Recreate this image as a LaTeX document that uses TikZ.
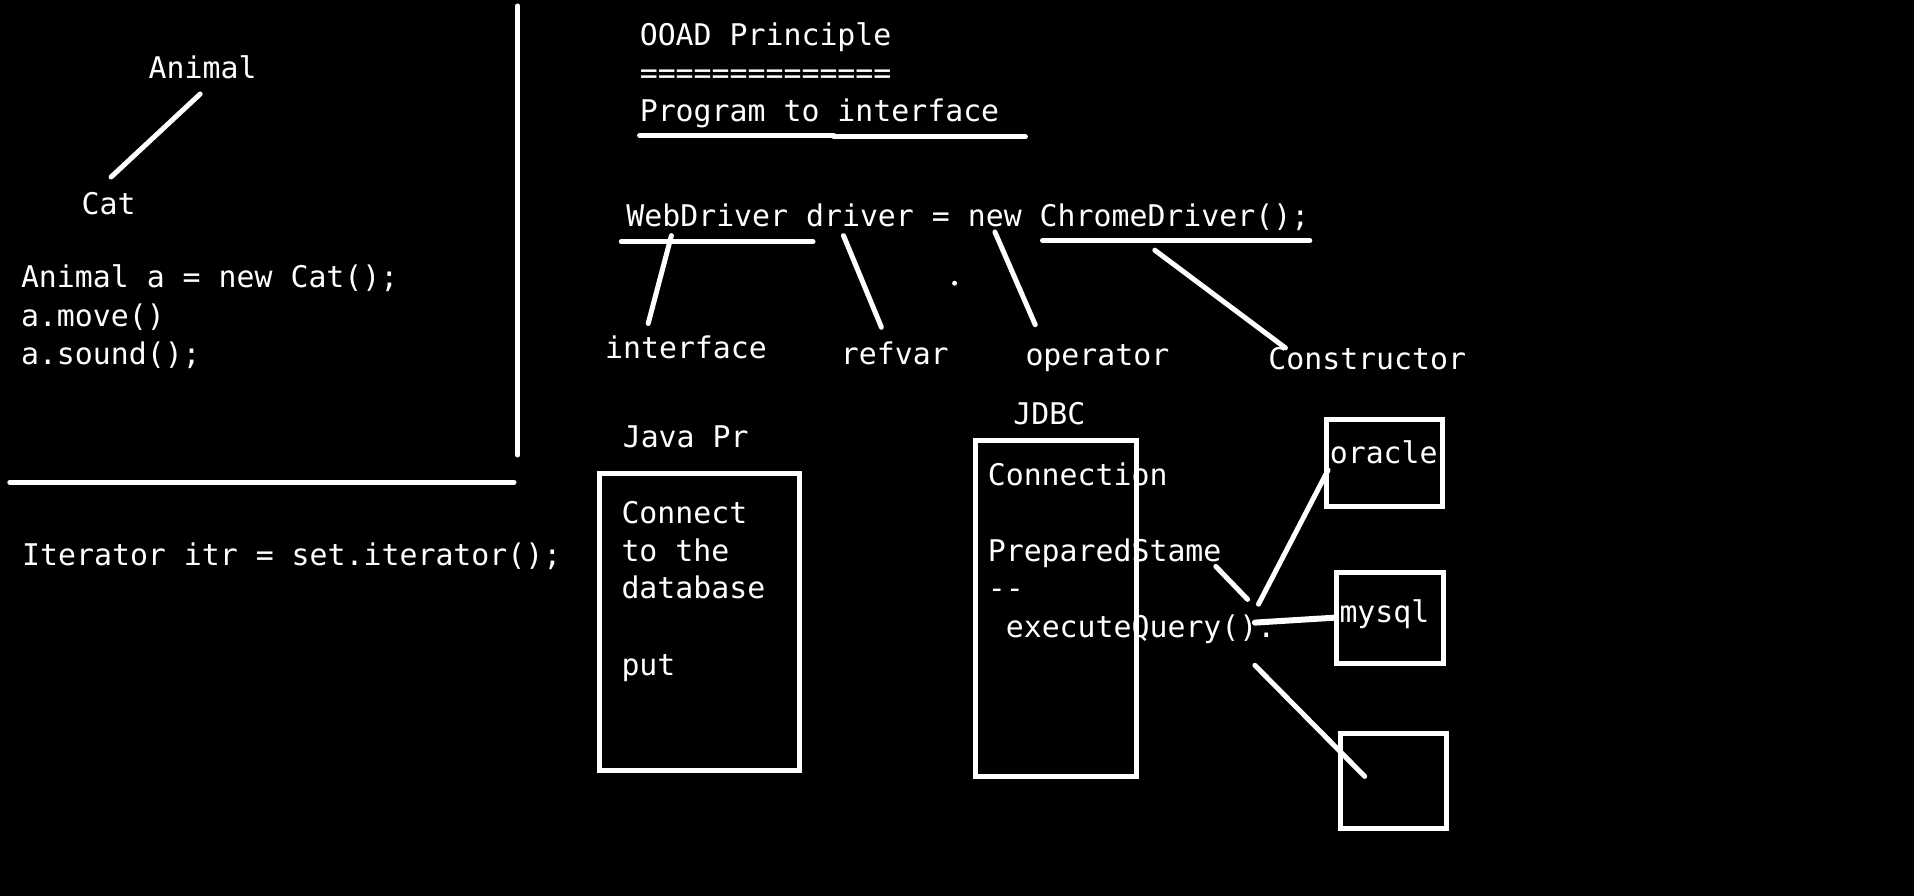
\documentclass[tikz,border=0pt]{standalone}
\usepackage{fontspec}
\setmonofont{DejaVu Sans Mono}
\begin{document}
\begin{tikzpicture}[x=1pt,y=-1pt,
  txt/.style={text=white,inner sep=0pt,anchor=west,text height=21pt,text depth=0pt,font=\ttfamily\fontsize{29.85}{36}\selectfont},
  ctxt/.style={txt,anchor=center},
  ln/.style={draw=white,line width=5pt,line cap=round},
  bx/.style={draw=white,line width=5pt}]
\fill[black] (0,0) rectangle (1914,896);
\useasboundingbox (0,0) rectangle (1914,896);
% left panel
\node[ctxt] (animal) at (202.6,68.4) {Animal};
\node[ctxt] (cat) at (108.6,203.9) {Cat};
\coordinate (ac1) at (200.2,94);
\coordinate (ac2) at (111.1,177);
\draw[ln] (ac1) -- (ac2);
\node[txt] (l1) at (20.8,277) {Animal a = new Cat();};
\node[txt] (l2) at (20.8,315.5) {a.move()};
\node[txt] (l3) at (20.8,354) {a.sound();};
\coordinate (v1) at (517.6,6);
\coordinate (v2) at (517.6,455);
\draw[ln] (v1) -- (v2);
\coordinate (h1) at (9.8,482.2);
\coordinate (h2) at (514,482.2);
\draw[ln] (h1) -- (h2);
\node[txt] (itr) at (22,555.4) {Iterator itr = set.iterator();};
% OOAD
\node[txt] (ooad) at (639.6,35.4) {OOAD Principle};
\node[txt] (eq) at (639.6,73.2) {==============};
\node[txt] (prog) at (639.6,111) {Program to interface};
\coordinate (u1) at (639.6,135.5);
\coordinate (u2) at (833.8,135.5);
\coordinate (u3) at (1025.4,136.7);
\draw[ln] (u1) -- (u2);
\draw[ln] (u2 |- u3) -- (u3);
% WebDriver line
\node[txt] (wd) at (626.2,216) {WebDriver driver = new ChromeDriver();};
\coordinate (w1) at (621.3,241.7);
\coordinate (w2) at (813,241.7);
\draw[ln] (w1) -- (w2);
\coordinate (c1) at (1042.5,240.5);
\coordinate (c2) at (1309.8,240.5);
\draw[ln] (c1) -- (c2);
\node[ctxt] (iface) at (686,347.9) {interface};
\node[ctxt] (refvar) at (894.8,354) {refvar};
\node[ctxt] (oper) at (1097.4,355.2) {operator};
\node[ctxt] (cons) at (1367.2,358.9) {Constructor};
\coordinate (a1) at (671.4,235.6); \coordinate (a2) at (648.2,323.5);
\coordinate (b1) at (843.5,235.6); \coordinate (b2) at (881.4,327.2);
\coordinate (d1) at (994.9,232);   \coordinate (d2) at (1035.2,324.7);
\coordinate (e1) at (1154.8,250.2); \coordinate (e2) at (1285.4,347.9);
\draw[ln] (a1) -- (a2);
\draw[ln] (b1) -- (b2);
\draw[ln] (d1) -- (d2);
\draw[ln] (e1) -- (e2);
\fill[white] (954.6,283.2) circle (2.5pt);
% Java Pr
\node[txt] (javapr) at (622.6,437) {Java Pr};
\node[bx,minimum width=200.3pt,minimum height=296.6pt,anchor=north west,inner sep=0pt] (jbox) at (596.6,471) {};
\node[txt] (j1) at (621.3,512.7) {Connect};
\node[txt] (j2) at (621.3,550.5) {to the};
\node[txt] (j3) at (621.3,588.4) {database};
\node[txt] (j4) at (621.3,665.3) {put};
% JDBC
\node[txt] (jdbc) at (1013.2,413.8) {JDBC};
\node[bx,minimum width=161.2pt,minimum height=335.6pt,anchor=north west,inner sep=0pt] (dbox) at (972.6,438) {};
\node[txt] (k1) at (987.6,474.9) {Connection};
\node[txt] (k2) at (987.6,550.5) {PreparedStame};
\node[txt] (k3) at (987.6,588.4) {--};
\node[txt] (k4) at (1005.6,627.4) {executeQuery().};
% DB boxes
\node[bx,minimum width=115.9pt,minimum height=86.7pt,anchor=north west,inner sep=0pt] (obox) at (1324.2,417.2) {};
\node[txt] (oracle) at (1329.6,452.9) {oracle};
\node[bx,minimum width=107.4pt,minimum height=91.5pt,anchor=north west,inner sep=0pt] (mbox) at (1334,569.8) {};
\node[txt] (mysql) at (1339.3,611.6) {mysql};
\node[bx,minimum width=106.2pt,minimum height=95.2pt,anchor=north west,inner sep=0pt] (xbox) at (1337.6,730.9) {};
\coordinate (p1) at (1215.8,566.4); \coordinate (p2) at (1247.6,599.4);
\coordinate (q1) at (1258.5,604.2); \coordinate (q2) at (1328.1,470);
\coordinate (r1) at (1254.9,622.6); \coordinate (r2) at (1334.2,617.7);
\coordinate (s1) at (1254.9,665.3); \coordinate (s2) at (1364.7,776.4);
\draw[ln] (p1) -- (p2);
\draw[ln] (q1) -- (q2);
\draw[ln,line width=6pt] (r1) -- (r2);
\draw[ln] (s1) -- (s2);
\end{tikzpicture}
\end{document}
